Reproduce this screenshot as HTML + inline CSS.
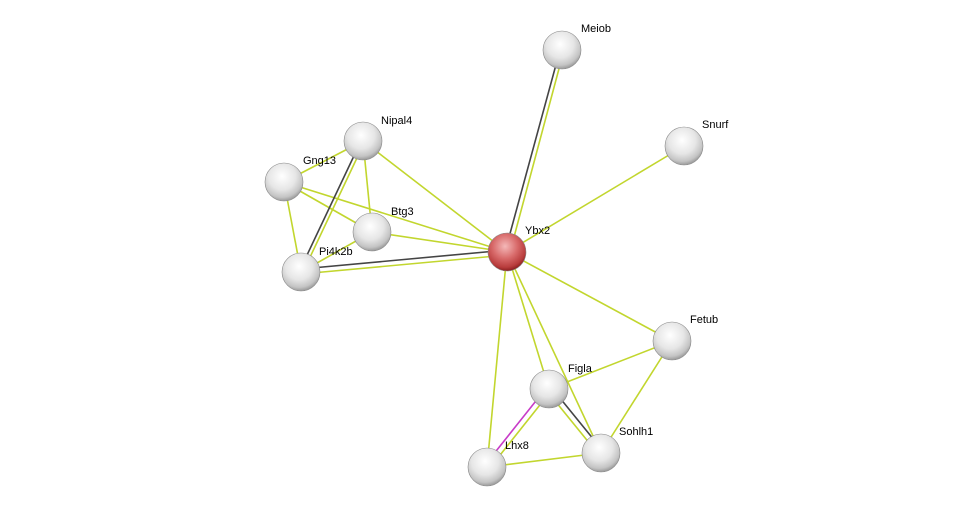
<!DOCTYPE html>
<html><head><meta charset="utf-8"><style>
html,body{margin:0;padding:0;background:#fff;}
svg{display:block;}
text{font-family:"Liberation Sans",sans-serif;font-size:11px;fill:#000;}
</style></head><body>
<svg width="976" height="512" viewBox="0 0 976 512" xmlns="http://www.w3.org/2000/svg">
<defs>
<radialGradient id="g" cx="45%" cy="35%" r="65%">
<stop offset="0" stop-color="#ffffff"/><stop offset="0.55" stop-color="#e6e6e6"/><stop offset="0.85" stop-color="#c4c4c4"/><stop offset="1" stop-color="#9a9a9a"/>
</radialGradient>
<radialGradient id="r" cx="45%" cy="35%" r="65%">
<stop offset="0" stop-color="#f4b8b8"/><stop offset="0.5" stop-color="#d86a6a"/><stop offset="0.85" stop-color="#b83c3c"/><stop offset="1" stop-color="#8a2020"/>
</radialGradient>
</defs>
<g stroke="#c2d62e" stroke-width="1.6" fill="none">
<line x1="684" y1="146" x2="507" y2="252"/>
<line x1="363" y1="141" x2="507" y2="252"/>
<line x1="284" y1="182" x2="507" y2="252"/>
<line x1="372" y1="232" x2="507" y2="252"/>
<line x1="284" y1="182" x2="363" y2="141"/>
<line x1="284" y1="182" x2="372" y2="232"/>
<line x1="284" y1="182" x2="301" y2="272"/>
<line x1="363" y1="141" x2="372" y2="232"/>
<line x1="372" y1="232" x2="301" y2="272"/>
<line x1="507" y1="252" x2="672" y2="341"/>
<line x1="507" y1="252" x2="549" y2="389"/>
<line x1="507" y1="252" x2="601" y2="453"/>
<line x1="507" y1="252" x2="487" y2="467"/>
<line x1="672" y1="341" x2="549" y2="389"/>
<line x1="672" y1="341" x2="601" y2="453"/>
<line x1="487" y1="467" x2="601" y2="453"/>
<!-- doubled -->
<line x1="564" y1="50" x2="510" y2="252"/>
<line x1="301" y1="274" x2="507" y2="255"/>
<line x1="365" y1="141" x2="303" y2="272"/>
<line x1="547" y1="391" x2="599" y2="455"/>
<line x1="551" y1="391" x2="489" y2="469"/>
</g>
<g stroke="#444" stroke-width="1.6" fill="none">
<line x1="560" y1="50" x2="505" y2="252"/>
<line x1="301" y1="269" x2="507" y2="250"/>
<line x1="361" y1="141" x2="299" y2="272"/>
<line x1="551" y1="387" x2="603" y2="451"/>
</g>
<line x1="547" y1="387" x2="485" y2="465" stroke="#c83cc8" stroke-width="1.6"/>
<g stroke="#888" stroke-width="0.6">
<circle cx="562" cy="50" r="19" fill="url(#g)"/>
<circle cx="684" cy="146" r="19" fill="url(#g)"/>
<circle cx="363" cy="141" r="19" fill="url(#g)"/>
<circle cx="284" cy="182" r="19" fill="url(#g)"/>
<circle cx="372" cy="232" r="19" fill="url(#g)"/>
<circle cx="301" cy="272" r="19" fill="url(#g)"/>
<circle cx="507" cy="252" r="19" fill="url(#r)"/>
<circle cx="672" cy="341" r="19" fill="url(#g)"/>
<circle cx="549" cy="389" r="19" fill="url(#g)"/>
<circle cx="487" cy="467" r="19" fill="url(#g)"/>
<circle cx="601" cy="453" r="19" fill="url(#g)"/>
</g>
<text x="581" y="32">Meiob</text>
<text x="702" y="128">Snurf</text>
<text x="381" y="124">Nipal4</text>
<text x="303" y="164">Gng13</text>
<text x="391" y="215">Btg3</text>
<text x="319" y="255">Pi4k2b</text>
<text x="525" y="234">Ybx2</text>
<text x="690" y="323">Fetub</text>
<text x="568" y="372">Figla</text>
<text x="505" y="449">Lhx8</text>
<text x="619" y="435">Sohlh1</text>
</svg>
</body></html>
